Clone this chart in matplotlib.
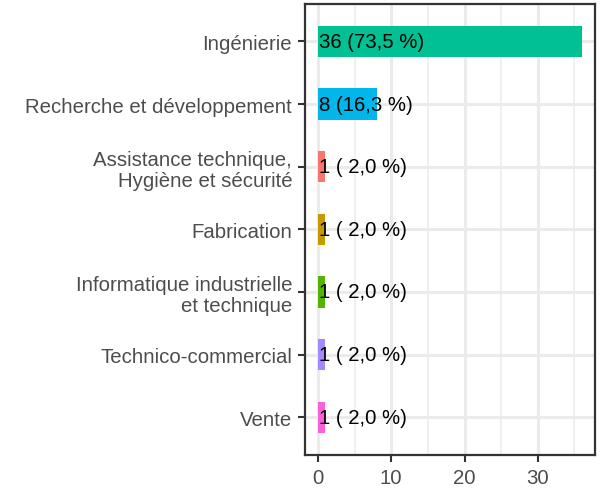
import matplotlib.pyplot as plt
import numpy as np

categories = ["Ingénierie", "Recherche et développement",
              "Assistance technique,\nHygiène et sécurité", "Fabrication",
              "Informatique industrielle\net technique", "Technico-commercial", "Vente"]
counts = [36, 8, 1, 1, 1, 1, 1]
colors = ["#00C094", "#00B6EB", "#F8766D", "#C49A00", "#53B400", "#A58AFF", "#FB61D7"]

plt.rcParams['font.family'] = ['Liberation Sans', 'DejaVu Sans']

total = sum(counts)
labels = ["%d (%4.1f %%)" % (c, 100.0 * c / total) for c in counts]
labels = [l.replace(".", ",") for l in labels]

fs = 14.7
fig = plt.figure(figsize=(6.01, 4.89), dpi=100)
ax = fig.add_axes([0.507, 0.068, 0.483, 0.922])

y = np.arange(len(categories))[::-1]
ax.barh(y, counts, height=0.5, color=colors, zorder=3)
for yi, lab in zip(y, labels):
    ax.text(0.15, yi, lab, ha='left', va='center', fontsize=fs, color='black', zorder=4)

ax.set_xlim(-1.8, 37.8)
ax.set_ylim(-0.6, len(categories) - 0.4)
ax.set_yticks(y)
ax.set_yticklabels(categories, fontsize=fs, color='#4D4D4D', linespacing=1.15)
ax.set_xticks([0, 10, 20, 30])
ax.set_xticks([5, 15, 25, 35], minor=True)
ax.tick_params(axis='x', labelsize=fs, labelcolor='#4D4D4D', pad=4.5)
ax.tick_params(axis='y', pad=4)
ax.tick_params(which='major', length=5, width=1.5, color='#333333')
ax.tick_params(which='minor', length=0)

ax.grid(which='major', color='#EBEBEB', linewidth=2.2, zorder=0)
ax.grid(which='minor', axis='x', color='#EBEBEB', linewidth=1.1, zorder=0)
ax.set_axisbelow(True)
for s in ax.spines.values():
    s.set_color('#333333')
    s.set_linewidth(1.6)

fig.savefig("out.png", dpi=100)
